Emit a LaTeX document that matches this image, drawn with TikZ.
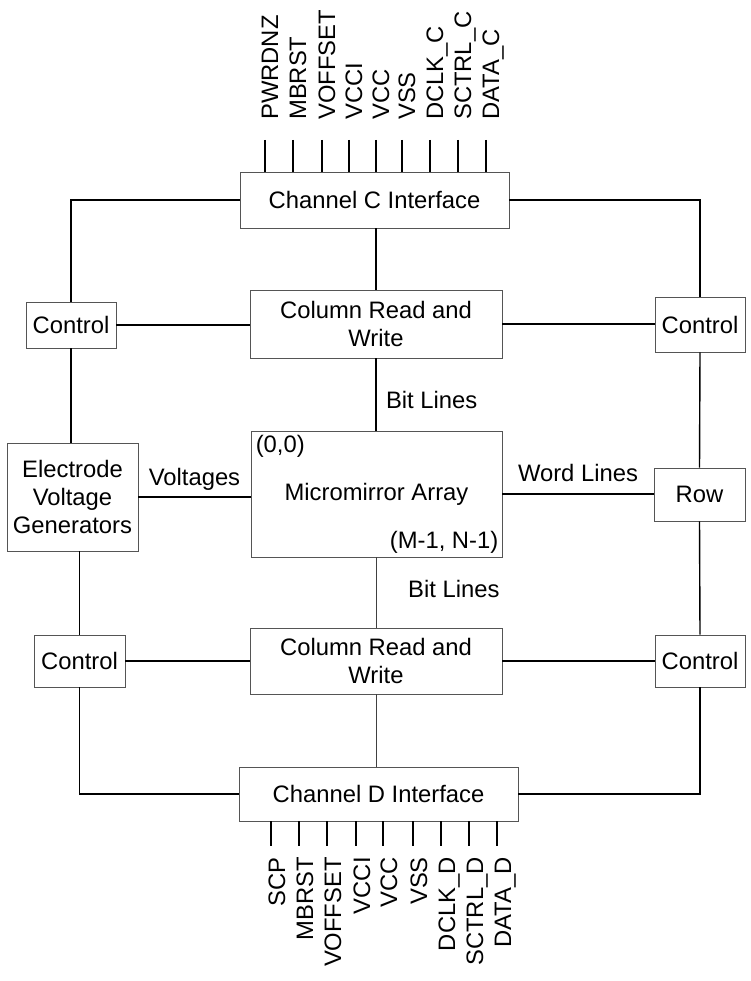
\documentclass[tikz,border=0pt]{standalone}
\usepackage{fontspec}
\setmainfont{Liberation Sans}
\begin{document}
\begin{tikzpicture}[x=1pt, y=-1pt,
    every node/.style={font=\fontsize{23.8}{28}\selectfont, text=black},
    box/.style={draw=boxColour, line width=0.9pt, inner sep=0pt, align=center},
    wire/.style={black, line width=1.4pt},
    thinwire/.style={black!75, line width=0.8pt},
    pinline/.style={black, line width=1.4pt},
    pinlabel/.style={rotate=90, inner sep=0pt}]
    \definecolor{boxColour}{HTML}{555555}
    \useasboundingbox (0,0) rectangle (751,981);

    % Draw blocks
    \node[box, minimum width=269pt, minimum height=56pt] (chanC) at (374.5,200) {Channel C Interface};
    \node[box, minimum width=252pt, minimum height=68pt] (colTop) at (376,324) {Column Read and\\Write};
    \node[box, minimum width=90pt, minimum height=46pt] (ctrlTL) at (71,325) {Control};
    \node[box, minimum width=90pt, minimum height=55pt] (ctrlTR) at (700,324.5) {Control};
    \node[box, minimum width=131pt, minimum height=108pt] (evg) at (72.5,497) {Electrode\\Voltage\\Generators};
    \node[box, minimum width=251pt, minimum height=126pt] (mirror) at (376.5,494) {Micromirror Array};
    \node[box, minimum width=91pt, minimum height=53pt] (row) at (699.5,494.5) {Row};
    \node[box, minimum width=252pt, minimum height=66pt] (colBot) at (376,661) {Column Read and\\Write};
    \node[box, minimum width=91pt, minimum height=52pt] (ctrlBL) at (79.5,661) {Control};
    \node[box, minimum width=90pt, minimum height=52pt] (ctrlBR) at (700,661) {Control};
    \node[box, minimum width=279pt, minimum height=54pt] (chanD) at (378.5,794) {Channel D Interface};

    % Array corners
    \node[anchor=north west, inner sep=5pt] (first) at (mirror.north west) {(0,0)};
    \node[anchor=south east, inner sep=4pt] (last) at (mirror.south east) {(M-1, N-1)};

    % Draw connections
    \draw[wire] (chanC.west) -| (ctrlTL.north);
    \draw[wire] (chanC.east) -| (ctrlTR.north);
    \draw[wire] (colTop.north |- chanC.south) -- (colTop.north);
    \draw[wire] (ctrlTL.east) -- (ctrlTL.east -| colTop.west);
    \draw[wire] (colTop.east) -- (colTop.east -| ctrlTR.west);
    \draw[wire] (ctrlTL.south) -- (ctrlTL.south |- evg.north);
    \draw[wire] (colTop.south) -- node[right, xshift=6pt, yshift=-5pt] (bitTop) {Bit Lines} (colTop.south |- mirror.north);
    \draw[wire] (evg.east) -- node[above, yshift=3pt] (volt) {Voltages} (evg.east -| mirror.west);
    \draw[wire] (mirror.east) -- node[above, yshift=8pt] (word) {Word Lines} (mirror.east -| row.west);
    \draw[wire] (ctrlTR.south) -- (row.north);
    \draw[wire] (row.south) -- (ctrlBR.north);
    \draw[thinwire] (mirror.south) -- node[right, xshift=28pt, yshift=4pt] (bitBot) {Bit Lines} (mirror.south |- colBot.north);
    \draw[wire] (ctrlBL.north) -- (ctrlBL.north |- evg.south);
    \draw[wire] (ctrlBL.east) -- (ctrlBL.east -| colBot.west);
    \draw[wire] (colBot.east) -- (colBot.east -| ctrlBR.west);
    \draw[thinwire] (colBot.south) -- (colBot.south |- chanD.north);
    \draw[wire] (ctrlBL.south) |- (chanD.west);
    \draw[wire] (chanD.east) -| (ctrlBR.south);

    % Channel C pins
    \foreach \x/\name [count=\i] in {265/PWRDNZ, 293/MBRST, 322/VOFFSET, 349/VCCI, 376/VCC,
            402/VSS, 430/DCLK\_C, 458/SCTRL\_C, 486/DATA\_C} {
        \coordinate (pinC\i) at (\x,140);
        \draw[pinline] (pinC\i) -- (pinC\i |- chanC.north);
        \node[pinlabel, anchor=base west] (labC\i) at (\x+13,120) {\name};
    }

    % Channel D pins
    \foreach \x/\name [count=\i] in {271/SCP, 299/MBRST, 327/VOFFSET, 356/VCCI, 383/VCC,
            413/VSS, 441/DCLK\_D, 469/SCTRL\_D, 497/DATA\_D} {
        \coordinate (pinD\i) at (\x,846);
        \draw[pinline] (pinD\i |- chanD.south) -- (pinD\i);
        \node[pinlabel, anchor=base east] (labD\i) at (\x+14,857) {\name};
    }

\end{tikzpicture}
\end{document}
